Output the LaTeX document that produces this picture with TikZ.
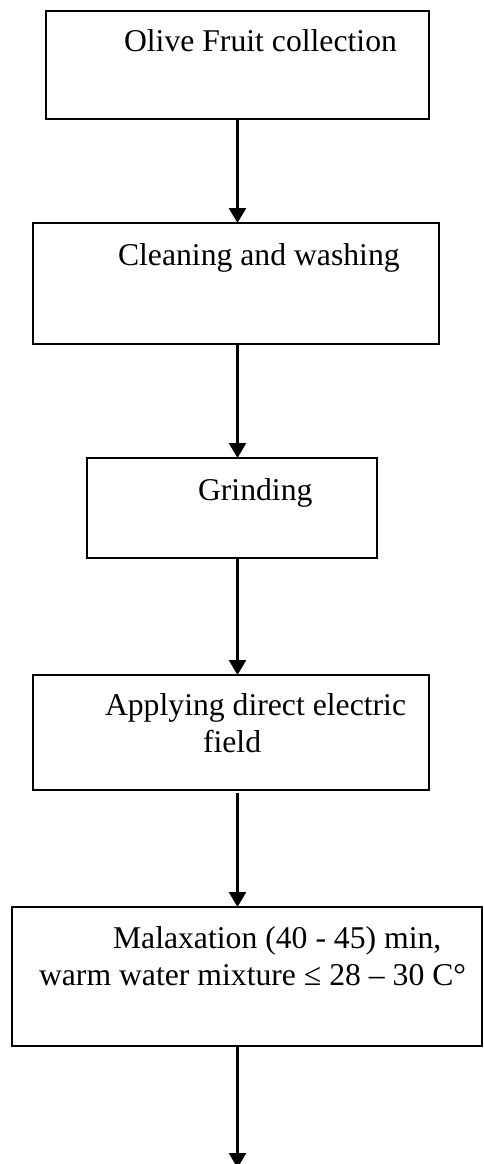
\documentclass[tikz,border=0pt]{standalone}
\usepackage{fontspec}
\setmainfont{Liberation Serif}
\usetikzlibrary{arrows.meta}
\begin{document}
\begin{tikzpicture}[x=1pt,y=-1pt,
  stepbox/.style={draw=black,line width=2pt,rectangle,inner sep=0pt,outer sep=0pt},
  lbl/.style={anchor=base west,inner sep=0pt,outer sep=0pt,font=\fontsize{31.7}{37}\selectfont},
  arr/.style={line width=2.6pt,-{Triangle[width=17pt,length=15pt]}}]
\useasboundingbox (0,0) rectangle (483,1164);
\clip (0,0) rectangle (483,1164);
\node[stepbox,minimum width=383pt,minimum height=108pt] (b1) at (237.5,65) {};
\node[stepbox,minimum width=406pt,minimum height=121pt] (b2) at (236,283.5) {};
\node[stepbox,minimum width=290pt,minimum height=100pt] (b3) at (232,508) {};
\node[stepbox,minimum width=396pt,minimum height=115pt] (b4) at (231,732.5) {};
\node[stepbox,minimum width=470pt,minimum height=139pt] (b5) at (247,976.5) {};
\node[lbl] (t1) at (124,52) {Olive Fruit collection};
\node[lbl] (t2) at (118,265) {Cleaning and washing};
\node[lbl] (t3) at (198,500) {Grinding};
\node[lbl] (t4a) at (105,715) {Applying direct electric};
\node[lbl] (t4b) at (203,752) {field};
\node[lbl] (t5a) at (113,948) {Malaxation (40 - 45) min,};
\node[lbl] (t5b) at (39,985) {warm water mixture ≤ 28 – 30 C°};
\coordinate (ax) at (237.5,0);
\coordinate (endpt) at (237.5,1168);
\draw[arr] (b1.south -| ax) -- (b2.north -| ax);
\draw[arr] (b2.south -| ax) -- (b3.north -| ax);
\draw[arr] (b3.south -| ax) -- (b4.north -| ax);
\draw[arr] ([yshift=-3pt]b4.south -| ax) -- (b5.north -| ax);
\draw[arr] (b5.south -| ax) -- (endpt);
\end{tikzpicture}
\end{document}
